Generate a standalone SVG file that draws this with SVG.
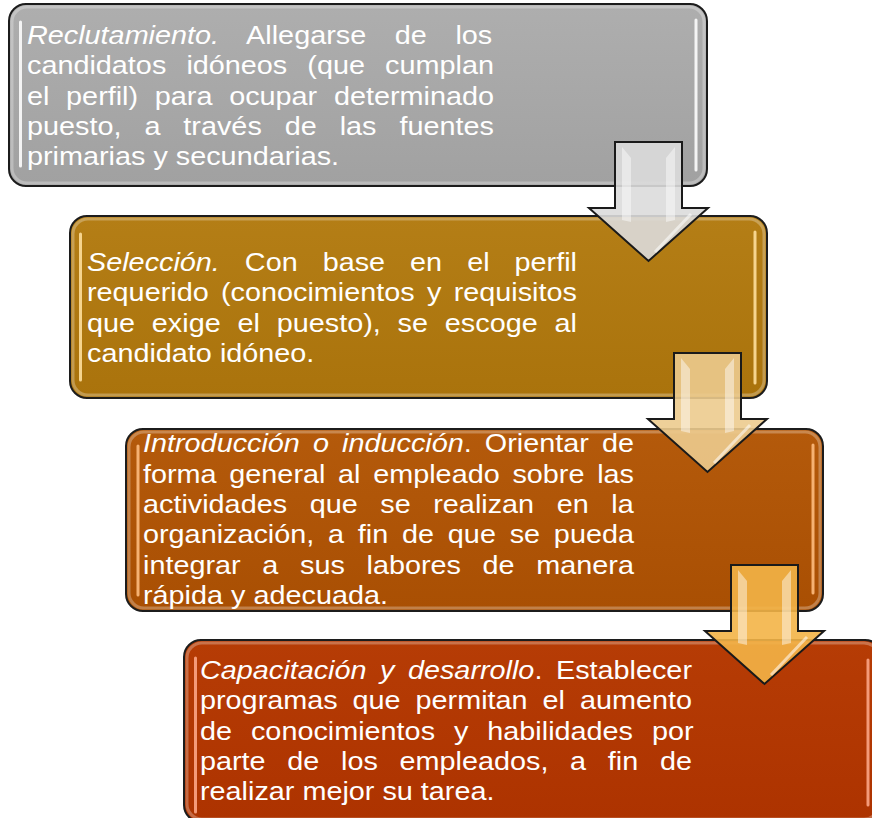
<svg xmlns="http://www.w3.org/2000/svg" xmlns:xlink="http://www.w3.org/1999/xlink" width="872" height="818" viewBox="0 0 872 818">
<style>
  .box { stroke: #1c1c1c; stroke-width: 2; }
  .glow { fill: none; stroke: #ffffff; stroke-opacity: 0.28; stroke-width: 3; }
  .bar { stroke-linecap: round; stroke-width: 3; }
  .txt { font-family: "Liberation Sans", Arial, sans-serif; font-size: 26.67px; fill: #ffffff; }
  .it { font-style: italic; }
  .arrow { stroke: #1a1a1a; stroke-width: 2; stroke-linejoin: miter; fill-opacity: 0.9; }
  .gloss { fill: #ffffff; fill-opacity: 0.45; }
  .glossline { stroke: #ffffff; stroke-opacity: 0.55; stroke-width: 3; fill: none; }
</style>
<defs>
  <linearGradient id="g1" x1="0" y1="0" x2="0" y2="1"><stop offset="0" stop-color="#AEAEAE"/><stop offset="1" stop-color="#A1A1A1"/></linearGradient>
  <linearGradient id="g2" x1="0" y1="0" x2="0" y2="1"><stop offset="0" stop-color="#B47E16"/><stop offset="1" stop-color="#AA730C"/></linearGradient>
  <linearGradient id="g3" x1="0" y1="0" x2="0" y2="1"><stop offset="0" stop-color="#B45A0B"/><stop offset="1" stop-color="#A94F03"/></linearGradient>
  <linearGradient id="g4" x1="0" y1="0" x2="0" y2="1"><stop offset="0" stop-color="#B63C05"/><stop offset="1" stop-color="#AD3300"/></linearGradient>
  <polygon id="arrowShape" points="0,0 67,0 67,66 93,66 33.5,119 -26,66 0,66"/>
  <g id="arrowGloss">
    <polygon class="gloss" points="7,5 16,16 16,80 7,78"/>
    <polygon class="gloss" points="60,5 51,16 51,80 60,78"/>
    <path class="glossline" d="M76,72 L40,110"/>
  </g>
</defs>

<g id="node-reclutamiento">
  <rect class="box" x="9" y="4" width="698" height="182" rx="17" fill="url(#g1)"/>
  <rect class="glow" x="12" y="7" width="692" height="176" rx="15"/>
  <line class="bar" x1="20.5" y1="22" x2="20.5" y2="166" stroke="#F4F4F4"/>
  <line class="bar" x1="696" y1="20" x2="696" y2="170" stroke="#F4F4F4"/>
  <g transform="translate(27 0) scale(1.08 1)" class="txt">
    <text y="44" word-spacing="19.1"><tspan class="it">Reclutamiento.</tspan> Allegarse de los</text>
    <text y="74.3" word-spacing="11.2">candidatos idóneos (que cumplan</text>
    <text y="104.6" word-spacing="8.05">el perfil) para ocupar determinado</text>
    <text y="134.9" word-spacing="13.84">puesto, a través de las fuentes</text>
    <text y="165.2">primarias y secundarias.</text>
  </g>
</g>

<g id="node-seleccion">
  <rect class="box" x="70" y="216" width="697" height="182" rx="17" fill="url(#g2)"/>
  <rect class="glow" x="73" y="219" width="691" height="176" rx="15"/>
  <line class="bar" x1="80.5" y1="234" x2="80.5" y2="380" stroke="#F6D48E"/>
  <line class="bar" x1="755" y1="232" x2="755" y2="383" stroke="#F6D48E"/>
  <g transform="translate(87 0) scale(1.08 1)" class="txt">
    <text y="271" word-spacing="15.73"><tspan class="it">Selección.</tspan> Con base en el perfil</text>
    <text y="301.3" word-spacing="4.0">requerido (conocimientos y requisitos</text>
    <text y="331.6" word-spacing="8.16">que exige el puesto), se escoge al</text>
    <text y="361.9">candidato idóneo.</text>
  </g>
</g>

<g id="node-introduccion">
  <rect class="box" x="126" y="429" width="697" height="182" rx="17" fill="url(#g3)"/>
  <rect class="glow" x="129" y="432" width="691" height="176" rx="15"/>
  <line class="bar" x1="138" y1="446" x2="138" y2="595" stroke="#F5B172"/>
  <line class="bar" x1="813" y1="445" x2="813" y2="593" stroke="#F5B172"/>
  <g transform="translate(143 0) scale(1.08 1)" class="txt">
    <text y="452.5" word-spacing="4.7"><tspan class="it">Introducción o inducción</tspan>. Orientar de</text>
    <text y="482.8" word-spacing="4.36">forma general al empleado sobre las</text>
    <text y="513.1" word-spacing="13.5">actividades que se realizan en la</text>
    <text y="543.4" word-spacing="5.35">organización, a fin de que se pueda</text>
    <text y="573.7" word-spacing="12.66">integrar a sus labores de manera</text>
    <text y="604">rápida y adecuada.</text>
  </g>
</g>

<g id="node-capacitacion">
  <rect class="box" x="184" y="640" width="698" height="182" rx="17" fill="url(#g4)"/>
  <rect class="glow" x="187" y="643" width="692" height="176" rx="15"/>
  <line class="bar" x1="195.5" y1="658" x2="195.5" y2="812" stroke="#F49A78"/>
  <line class="bar" x1="868" y1="660" x2="868" y2="805" stroke="#F49A78"/>
  <g transform="translate(200 0) scale(1.08 1)" class="txt">
    <text y="679" word-spacing="5.12"><tspan class="it">Capacitación y desarrollo</tspan>. Establecer</text>
    <text y="709.3" word-spacing="6.43">programas que permitan el aumento</text>
    <text y="739.6" word-spacing="10.13">de conocimientos y habilidades por</text>
    <text y="769.9" word-spacing="12.67">parte de los empleados, a fin de</text>
    <text y="800.2">realizar mejor su tarea.</text>
  </g>
</g>

<g id="connectors">
  <g id="arrow-1" transform="translate(615 142)">
    <use xlink:href="#arrowShape" class="arrow" fill="#DCDCDC"/>
    <use xlink:href="#arrowGloss"/>
  </g>
  <g id="arrow-2" transform="translate(674 353)">
    <use xlink:href="#arrowShape" class="arrow" fill="#ECCB8E"/>
    <use xlink:href="#arrowGloss"/>
  </g>
  <g id="arrow-3" transform="translate(731 565)">
    <use xlink:href="#arrowShape" class="arrow" fill="#F3B447"/>
    <use xlink:href="#arrowGloss"/>
  </g>
</g>
</svg>
